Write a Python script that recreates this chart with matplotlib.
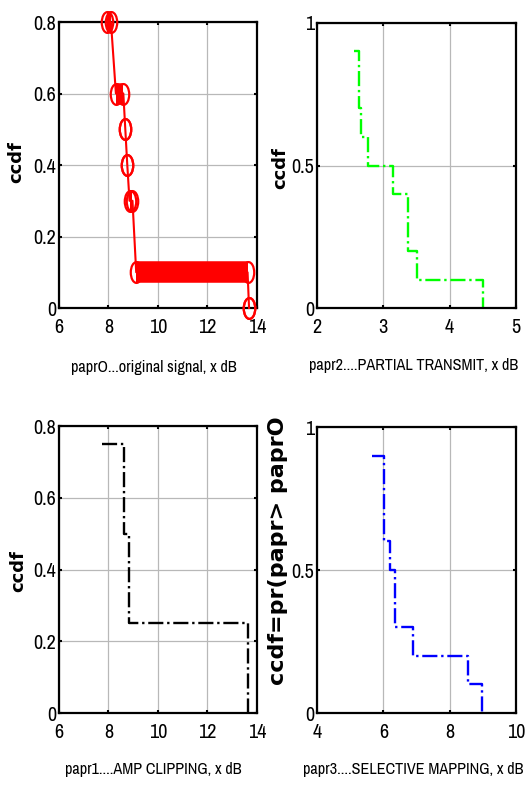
import matplotlib
matplotlib.use("Agg")
import matplotlib.pyplot as plt
from matplotlib.path import Path
from matplotlib.transforms import Affine2D

plt.rcParams['font.family'] = ['Archivo Narrow', 'Liberation Sans', 'DejaVu Sans']

# ---- data ----
# original signal: ccdf levels with x extent of markers at each level
orig_levels = [0.8, 0.6, 0.5, 0.4, 0.3, 0.1, 0.0]
orig_x_lo = [7.95, 8.30, 8.68, 8.76, 8.85, 9.12, 13.68]
orig_x_hi = [8.10, 8.60, 8.68, 8.76, 8.97, 13.62, 13.68]

# partial transmit (step, where='post')
pts_x = [2.56, 2.63, 2.66, 2.77, 3.14, 3.37, 3.50, 4.50]
pts_y = [0.9, 0.7, 0.6, 0.5, 0.4, 0.2, 0.1, 0.0]

# amp clipping
clip_x = [7.75, 8.62, 8.82, 13.65]
clip_y = [0.75, 0.5, 0.25, 0.0]

# selective mapping
slm_x = [5.67, 6.03, 6.20, 6.35, 6.88, 8.56, 8.98]
slm_y = [0.9, 0.6, 0.5, 0.3, 0.2, 0.1, 0.0]

fig = plt.figure(figsize=(5.28, 7.87), dpi=100)

axTL = fig.add_axes([0.1117, 0.6086, 0.375, 0.3634])
axTR = fig.add_axes([0.6004, 0.6086, 0.3769, 0.3622])
axBL = fig.add_axes([0.1117, 0.0940, 0.375, 0.3647])
axBR = fig.add_axes([0.6004, 0.0940, 0.3769, 0.3634])

tick_fs = 14.5
lab_fs = 11.7


def style(ax, xlim, ylim, xticks, yticks, xlabel, ylabel, ylab_fs,
          ylab_xy, xlab_xy):
    ax.set_xlim(*xlim)
    ax.set_ylim(*ylim)
    ax.set_xticks(xticks)
    ax.set_yticks(yticks)
    ax.set_yticklabels([('%g' % v) for v in yticks])
    ax.grid(True, color='#b8b8b8', linewidth=0.9)
    ax.set_axisbelow(True)
    ax.tick_params(direction='in', top=True, right=True, length=2.5, width=1.5,
                   labelsize=tick_fs)
    ax.tick_params(axis='x', pad=7)
    ax.tick_params(axis='y', pad=2)
    for sp in ax.spines.values():
        sp.set_linewidth(1.6)
        sp.set_color('black')
    ax.set_xlabel(xlabel, fontsize=lab_fs)
    ax.xaxis.set_label_coords(*xlab_xy)
    ax.set_ylabel(ylabel, fontsize=ylab_fs, fontweight='bold',
                  family=['DejaVu Sans'])
    ax.yaxis.set_label_coords(*ylab_xy)


# ---- top-left: original ----
ell = Path.unit_circle().transformed(Affine2D().scale(0.55, 1.0))
px, py = [], []
for y, lo, hi in zip(orig_levels, orig_x_lo, orig_x_hi):
    if hi > lo:
        axTL.plot([lo, hi], [y, y], color='red', linewidth=15.5,
                  solid_capstyle='butt', clip_on=False, zorder=3)
    px += [lo, hi]
    py += [y, y]
axTL.plot(px, py, color='red', linewidth=1.5, marker=ell, markersize=15,
          markerfacecolor='none', markeredgecolor='red', markeredgewidth=1.6,
          clip_on=False, zorder=4)
style(axTL, (6, 14), (0, 0.8), [6, 8, 10, 12, 14], [0, 0.2, 0.4, 0.6, 0.8],
      'paprO...original signal, x dB', 'ccdf', 13,
      (-0.172, 0.51), (0.478, -0.18))

# ---- top-right: partial transmit ----
axTR.step(pts_x, pts_y, where='post', color='#00ff00', linestyle='-.',
          linewidth=1.7)
style(axTR, (2, 5), (0, 1), [2, 3, 4, 5], [0, 0.5, 1],
      'papr2....PARTIAL TRANSMIT, x dB', 'ccdf', 13,
      (-0.141, 0.49), (0.487, -0.175))

# ---- bottom-left: amp clipping ----
axBL.step(clip_x, clip_y, where='post', color='black', linestyle='-.',
          linewidth=1.7)
style(axBL, (6, 14), (0, 0.8), [6, 8, 10, 12, 14], [0, 0.2, 0.4, 0.6, 0.8],
      'papr1....AMP CLIPPING, x dB', 'ccdf', 13,
      (-0.162, 0.495), (0.478, -0.17))

# ---- bottom-right: selective mapping ----
axBR.step(slm_x, slm_y, where='post', color='blue', linestyle='-.',
          linewidth=1.7)
style(axBR, (4, 10), (0, 1), [4, 6, 8, 10], [0, 0.5, 1],
      'papr3....SELECTIVE MAPPING, x dB', 'ccdf=pr(papr> paprO', 16,
      (-0.146, 0.566), (0.485, -0.17))

fig.savefig('out.png', dpi=100)
